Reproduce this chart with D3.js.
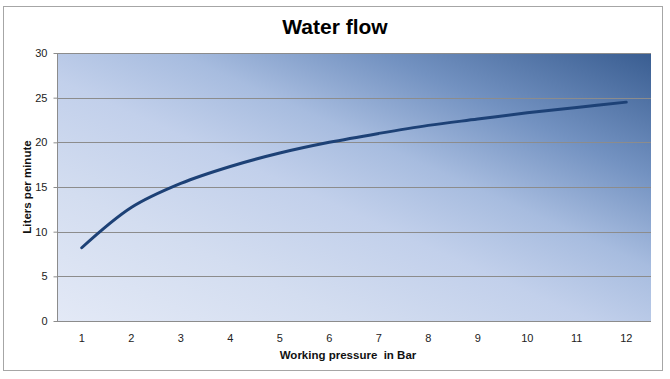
<!DOCTYPE html>
<html>
<head>
<meta charset="utf-8">
<script src="https://cdn.jsdelivr.net/npm/d3@7"></script>
<style>
  html, body { margin: 0; padding: 0; background: #fff; }
  svg { display: block; font-family: "Liberation Sans", Arial, sans-serif; }
</style>
</head>
<body>
<svg id="chart" width="670" height="379"></svg>
<script>
const titleText = "Water flow";
const xTitle = "Working pressure  in Bar";
const yTitle = "Liters per minute";
const pressures = ["1","2","3","4","5","6","7","8","9","10","11","12"];
const flow = [8.2, 12.7, 15.4, 17.3, 18.8, 20.0, 21.0, 21.9, 22.6, 23.3, 23.9, 24.5];
const yTicks = [0, 5, 10, 15, 20, 25, 30];

const svg = d3.select("#chart");
const plot = {left: 57, right: 651, top: 53, bottom: 321};

// outer frame
svg.append("rect").attr("x", 3.5).attr("y", 6.5).attr("width", 659).attr("height", 364)
  .attr("fill", "#fff").attr("stroke", "#a6a6a6").attr("stroke-width", 1);

// gradient
const defs = svg.append("defs");
const grad = defs.append("linearGradient").attr("id", "bg")
  .attr("x1", "0").attr("y1", "1").attr("x2", "1").attr("y2", "0");
[["0%", "#e3e9f6"], ["25%", "#d3ddf0"], ["45%", "#c2d0eb"], ["60%", "#a7bcdf"],
 ["77%", "#7392c1"], ["100%", "#395d91"]].forEach(([o, c]) =>
  grad.append("stop").attr("offset", o).attr("stop-color", c));

const x = d3.scaleBand().domain(pressures).range([plot.left, plot.right]);
const y = d3.scaleLinear().domain([0, 30]).range([plot.bottom, plot.top]);

svg.append("rect").attr("x", plot.left).attr("y", plot.top)
  .attr("width", plot.right - plot.left).attr("height", plot.bottom - plot.top)
  .attr("fill", "url(#bg)");

// gridlines
svg.append("g").selectAll("line").data(yTicks.filter(d => d > 0)).join("line")
  .attr("x1", plot.left).attr("x2", plot.right)
  .attr("y1", d => Math.round(y(d)) + 0.5).attr("y2", d => Math.round(y(d)) + 0.5)
  .attr("stroke", "#8c8c8c").attr("stroke-width", 1);

// y axis
const yAxis = svg.append("g").attr("transform", `translate(${plot.left + 0.5},0)`)
  .call(d3.axisLeft(y).tickValues(yTicks).tickSize(4).tickPadding(6));
yAxis.select(".domain").attr("stroke", "#8c8c8c").attr("d", `M0,${plot.top}V${plot.bottom}`);
yAxis.selectAll(".tick line").attr("stroke", "#8c8c8c");
yAxis.selectAll("text").attr("font-size", 11).attr("fill", "#222")
  .attr("font-family", "\"Liberation Sans\", Arial, sans-serif");

// x axis
const xAxis = svg.append("g").attr("transform", `translate(0,${plot.bottom + 0.5})`)
  .call(d3.axisBottom(x).tickSize(0).tickPadding(13));
xAxis.select(".domain").attr("stroke", "#8c8c8c").attr("d", `M${plot.left},0H${plot.right}`);
xAxis.selectAll("text").attr("font-size", 11).attr("fill", "#222")
  .attr("font-family", "\"Liberation Sans\", Arial, sans-serif");

// line
const line = d3.line()
  .x((d, i) => x(pressures[i]) + x.bandwidth() / 2)
  .y(d => y(d))
  .curve(d3.curveCatmullRom.alpha(0.5));
svg.append("path").datum(flow).attr("d", line)
  .attr("fill", "none").attr("stroke", "#1d4176").attr("stroke-width", 3)
  .attr("stroke-linecap", "round").attr("stroke-linejoin", "round");

// title
svg.append("text").attr("x", 335).attr("y", 34).attr("text-anchor", "middle")
  .attr("font-size", 21).attr("font-weight", "bold").attr("fill", "#000")
  .text(titleText);

// axis titles
svg.append("text").attr("x", 348).attr("y", 359).attr("text-anchor", "middle")
  .attr("font-size", 11.5).attr("font-weight", "bold").attr("fill", "#111")
  .style("white-space", "pre").text(xTitle);

svg.append("text").attr("transform", `translate(31,187) rotate(-90)`)
  .attr("text-anchor", "middle")
  .attr("font-size", 11.5).attr("font-weight", "bold").attr("fill", "#111")
  .text(yTitle);
</script>
</body>
</html>
